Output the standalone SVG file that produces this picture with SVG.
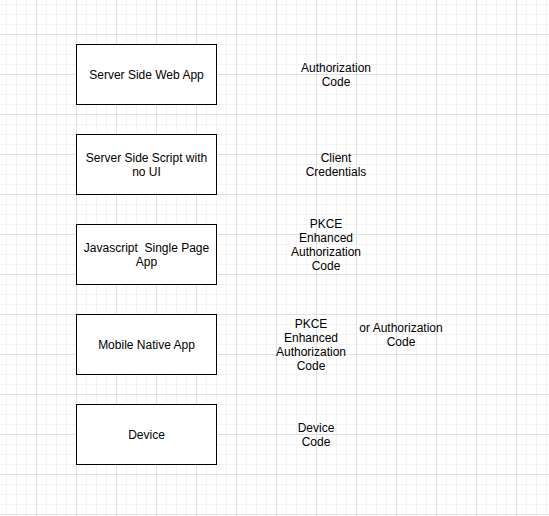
<svg xmlns="http://www.w3.org/2000/svg" width="549" height="516" viewBox="0 0 549 516">
<defs>
<pattern id="minor" patternUnits="userSpaceOnUse" x="-4" y="-6" width="10" height="10">
<path d="M0.5 0V10M0 0.5H10" stroke="#f3f3f3" stroke-width="1" fill="none"/>
</pattern>
<pattern id="major" patternUnits="userSpaceOnUse" x="-4" y="-6" width="40" height="40">
<path d="M0.5 0V40M0 0.5H40" stroke="#e0e0e0" stroke-width="1" fill="none"/>
</pattern>
</defs>
<style>
.box{fill:#ffffff;stroke:#000000;stroke-width:1}
text{font-family:"Liberation Sans",Arial,sans-serif;font-size:12px;fill:#000000;text-anchor:middle}
</style>
<rect width="549" height="516" fill="#ffffff"/>
<rect width="549" height="516" fill="url(#minor)"/>
<rect width="549" height="516" fill="url(#major)"/>
<g id="connectors"></g>
<g id="n1"><rect class="box" x="76.5" y="44.5" width="140" height="60"/><text x="146.5" y="79">Server Side Web App</text></g>
<g id="n2"><rect class="box" x="76.5" y="134.5" width="140" height="60"/><text x="146.5" y="162">Server Side Script with</text><text x="146.5" y="176">no UI</text></g>
<g id="n3"><rect class="box" x="76.5" y="224.5" width="140" height="60"/><text x="146.5" y="252" xml:space="preserve">Javascript  Single Page</text><text x="146.5" y="266">App</text></g>
<g id="n4"><rect class="box" x="76.5" y="314.5" width="140" height="60"/><text x="146.5" y="349">Mobile Native App</text></g>
<g id="n5"><rect class="box" x="76.5" y="404.5" width="140" height="60"/><text x="146.5" y="439">Device</text></g>
<g id="l1"><text x="336" y="72">Authorization</text><text x="336" y="86">Code</text></g>
<g id="l2"><text x="336" y="162">Client</text><text x="336" y="176">Credentials</text></g>
<g id="l3"><text x="326" y="228">PKCE</text><text x="326" y="242">Enhanced</text><text x="326" y="256">Authorization</text><text x="326" y="270">Code</text></g>
<g id="l4"><text x="311" y="328">PKCE</text><text x="311" y="342">Enhanced</text><text x="311" y="356">Authorization</text><text x="311" y="370">Code</text></g>
<g id="l5"><text x="401" y="332">or Authorization</text><text x="401" y="346">Code</text></g>
<g id="l6"><text x="316" y="432">Device</text><text x="316" y="446">Code</text></g>
</svg>
